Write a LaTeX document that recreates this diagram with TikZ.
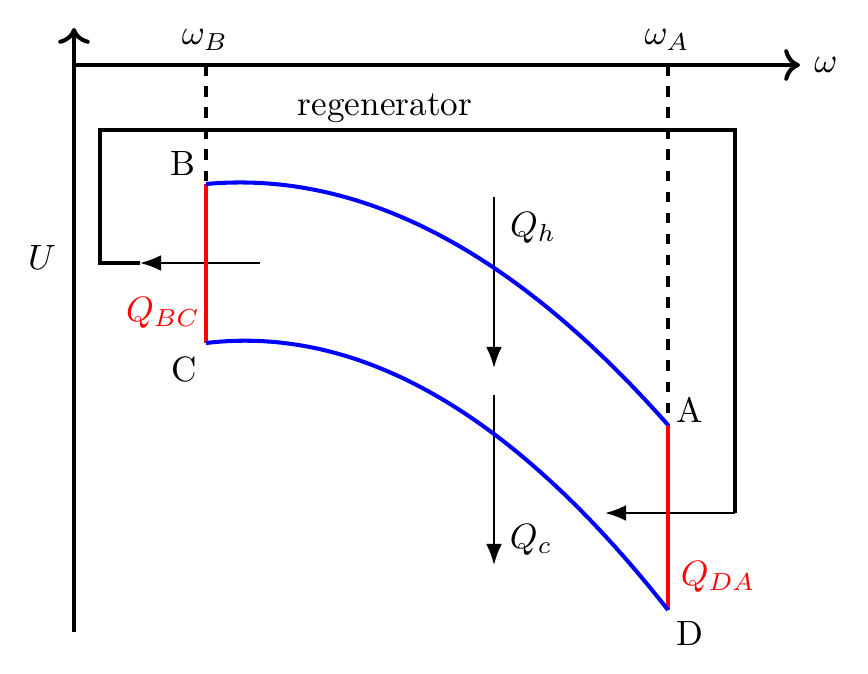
\documentclass[tikz,border=0pt]{standalone}
\usetikzlibrary{arrows.meta}
\begin{document}
\begin{tikzpicture}[x=0.01cm,y=-0.01cm,
  axis/.style={line width=1.15pt,-{Computer Modern Rightarrow[length=4.5pt,width=9pt]}},
  guide/.style={line width=0.95pt,dashed},
  regbox/.style={line width=0.95pt},
  flow/.style={line width=0.6pt,-{Latex[length=6pt,width=4.5pt]}},
  proc/.style={blue,line width=1.15pt},
  isoc/.style={red,line width=1.15pt},
  lbl/.style={inner sep=0pt}]
\useasboundingbox (0,0) rectangle (868,673);
% coordinates
\coordinate (O) at (74,65);
\coordinate (Ybot) at (74,632);
\coordinate (Ytop) at (74,28);
\coordinate (Xend) at (800,65);
\coordinate (wB) at (206,65);
\coordinate (wA) at (668,65);
\coordinate (B) at (206,184);
\coordinate (C) at (206,343);
\coordinate (A) at (668,425);
\coordinate (D) at (668,610);
\coordinate (r1) at (140,263);
\coordinate (r2) at (100,263);
\coordinate (r3) at (100,130);
\coordinate (r4) at (735,130);
\coordinate (r5) at (735,513);
\coordinate (r6) at (605,513);
\coordinate (r0) at (260,263);
\coordinate (h1) at (494,197);
\coordinate (h2) at (494,368);
\coordinate (c1) at (494,395);
\coordinate (c2) at (494,565);
% axes
\draw[axis] (Ybot) -- (Ytop);
\draw[axis] (O) -- (Xend);
% guides
\draw[guide] (wB) -- (B);
\draw[guide] (wA) -- (A);
% regenerator
\draw[regbox] (r1) -- (r2) -- (r3) -- (r4) -- (r5);
\draw[flow] (r0) -- (r1);
\draw[flow] (r5) -- (r6);
% heat arrows
\draw[flow] (h1) -- (h2);
\draw[flow] (c1) -- (c2);
% isochores
\draw[isoc] (B) -- (C);
\draw[isoc] (A) -- (D);
% curves
\draw[proc] (B) .. controls (360,170.1) and (514,250.5) .. (A);
\draw[proc] (C) .. controls (360,324.9) and (514,413.9) .. (D);
% labels
\node[lbl] (lwB) at (205,40) {$\omega_B$};
\node[lbl] (lwA) at (667,40) {$\omega_A$};
\node[lbl] (lw) at (826,65) {$\omega$};
\node[lbl] (lU) at (42,257) {$U$};
\node[lbl] (lreg) at (385,108) {regenerator};
\node[lbl] (lB) at (183,163) {B};
\node[lbl] (lC) at (184,369) {C};
\node[lbl] (lA) at (690,410) {A};
\node[lbl] (lD) at (690,633) {D};
\node[lbl] (lQh) at (533,228) {$Q_h$};
\node[lbl] (lQc) at (531,540) {$Q_c$};
\node[lbl,red] (lQbc) at (163,313) {$Q_{BC}$};
\node[lbl,red] (lQda) at (718,577) {$Q_{DA}$};
\end{tikzpicture}
\end{document}
